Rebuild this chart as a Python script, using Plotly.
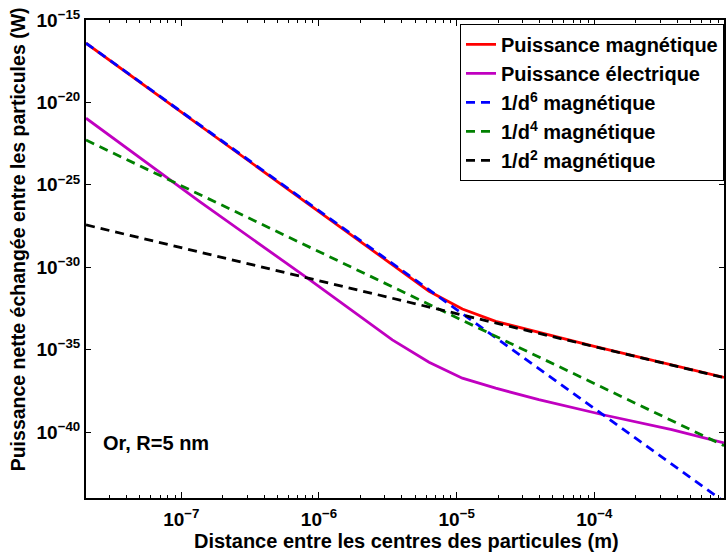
import plotly.graph_objects as go

# ---- data ----
distance_mag = [2.03e-8, 6.3e-6, 1.1e-5, 1.92e-5, 1e-4, 8.75e-4]
puissance_mag = [3.9e-17, 3.5e-32, 2.95e-33, 5.2e-34, 1.6e-35, 2.05e-37]

distance_elec = [2.03e-8, 1.36e-7, 8.05e-7, 3.41e-6, 6.3e-6, 1.1e-5, 1.92e-5,
                 3.95e-5, 1.2e-4, 3.65e-4, 8.75e-4]
puissance_elec = [1.1e-21, 9.5e-27, 2.5e-31, 3.9e-35, 1.74e-36, 1.86e-37, 4.6e-38,
                  9.3e-39, 1.05e-39, 1.4e-40, 2.2e-41]

distance_fit = [2.03e-8, 8.75e-4]
fit_d6 = [3.9e-17, 6.0e-45]
fit_d4 = [5.2e-23, 1.5e-41]
fit_d2 = [3.7e-28, 2.0e-37]

x_tickvals = [1e-7, 1e-6, 1e-5, 1e-4]
x_exponents = ["\u22127", "\u22126", "\u22125", "\u22124"]
x_minor = [m * 10.0 ** e for e in (-8, -7, -6, -5, -4) for m in range(2, 10)]
y_tickvals = [1e-40, 1e-35, 1e-30, 1e-25, 1e-20, 1e-15]
y_exponents = ["\u221240", "\u221235", "\u221230", "\u221225", "\u221220", "\u221215"]

FONT = "Liberation Sans"
dash = "9px,6px"
LW = 2.8

x_ticktext = ["10<sup>%s</sup>" % e for e in x_exponents]
y_ticktext = ["10<sup>%s</sup>" % e for e in y_exponents]

fig = go.Figure()
fig.add_trace(go.Scatter(x=distance_mag, y=puissance_mag, mode="lines",
                         name="Puissance magnétique", line=dict(color="#FF0000", width=LW)))
fig.add_trace(go.Scatter(x=distance_elec, y=puissance_elec, mode="lines",
                         name="Puissance électrique", line=dict(color="#C000C0", width=LW)))
fig.add_trace(go.Scatter(x=distance_fit, y=fit_d6, mode="lines",
                         name="1/d<sup>6</sup> magnétique",
                         line=dict(color="#0000FF", width=LW, dash=dash)))
fig.add_trace(go.Scatter(x=distance_fit, y=fit_d4, mode="lines",
                         name="1/d<sup>4</sup> magnétique",
                         line=dict(color="#008000", width=LW, dash=dash)))
fig.add_trace(go.Scatter(x=distance_fit, y=fit_d2, mode="lines",
                         name="1/d<sup>2</sup> magnétique",
                         line=dict(color="#000000", width=LW, dash=dash)))

fig.update_layout(
    width=726, height=559,
    margin=dict(l=86, r=0, t=20, b=61),
    paper_bgcolor="white", plot_bgcolor="white",
    font=dict(family=FONT, size=19, color="black", weight="bold"),
    showlegend=True,
    legend=dict(x=1.0, xanchor="right", y=0.992, yanchor="top",
                bgcolor="white", bordercolor="black", borderwidth=1,
                font=dict(family=FONT, size=20, color="black", weight="bold"),
                tracegroupgap=0, itemwidth=30),
    xaxis=dict(type="log", range=[-7.6925, -3.058], showgrid=False, zeroline=False,
               showline=True, linecolor="black", linewidth=2, mirror="allticks",
               ticks="inside", ticklen=6, tickwidth=1, tickcolor="black",
               tickmode="array", tickvals=x_tickvals, ticktext=x_ticktext,
               tickfont=dict(family=FONT, size=19, weight="bold"), ticklabelstandoff=3,
               minor=dict(tickmode="array", tickvals=x_minor, ticks="inside", ticklen=3,
                          tickcolor="black", showgrid=False)),
    yaxis=dict(type="log", range=[-44, -15], showgrid=False, zeroline=False,
               showline=True, linecolor="black", linewidth=2, mirror="allticks",
               ticks="inside", ticklen=5, tickwidth=1, tickcolor="black",
               tickmode="array", tickvals=y_tickvals, ticktext=y_ticktext,
               tickfont=dict(family=FONT, size=19, weight="bold"), ticklabelstandoff=0),
)

fig.add_annotation(text="Puissance nette échangée entre les particules (W)",
                   xref="paper", yref="paper", x=-0.106, y=0.542, textangle=-90,
                   xanchor="center", yanchor="middle", showarrow=False,
                   font=dict(family=FONT, size=19.5, weight="bold"))
fig.add_annotation(text="Distance entre les centres des particules (m)",
                   xref="paper", yref="paper", x=0.503, y=-0.09,
                   xanchor="center", yanchor="middle", showarrow=False,
                   font=dict(family=FONT, size=20, weight="bold"))
fig.add_annotation(text="Or, R=5 nm", xref="paper", yref="paper", x=0.023, y=0.1144,
                   xanchor="left", yanchor="middle", showarrow=False,
                   font=dict(family=FONT, size=20, weight="bold"))

fig.write_html("out.html", config={"displayModeBar": False},
               post_script="document.body.style.margin='0px';")
